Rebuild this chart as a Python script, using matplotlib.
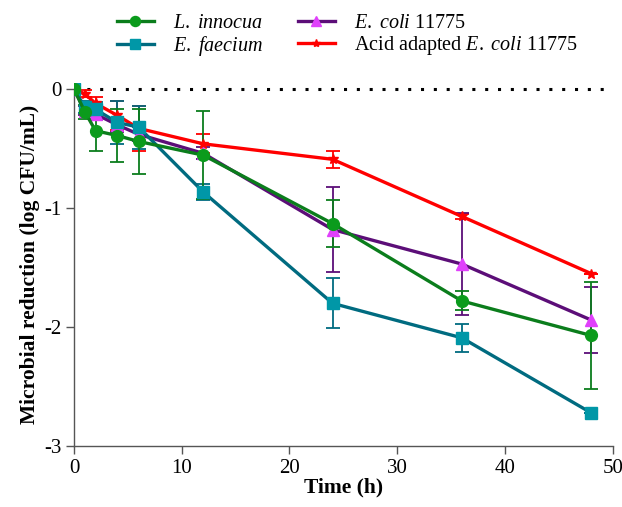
import matplotlib
matplotlib.use('Agg')
import matplotlib.pyplot as plt

plt.rcParams['font.family'] = ['Liberation Serif', 'DejaVu Serif']
plt.rcParams['mathtext.fontset'] = 'custom'
plt.rcParams['mathtext.rm'] = 'Liberation Serif'
plt.rcParams['mathtext.it'] = 'Liberation Serif:italic'

# Time points (h)
time = [0, 1, 2, 4, 6, 12, 24, 36, 48]

# Mean reductions (log CFU/mL) and error bars
innocua = [0, -0.19, -0.35, -0.39, -0.44, -0.555, -1.13, -1.78, -2.07]
innocua_err = [0, 0.06, 0.17, 0.22, 0.27, 0.37, 0.20, 0.08, 0.45]

faecium = [0, -0.15, -0.17, -0.28, -0.32, -0.865, -1.80, -2.09, -2.72]
faecium_err = [0, 0.05, 0.06, 0.18, 0.18, 0.07, 0.21, 0.12, 0.0]

ecoli = [0, -0.18, -0.21, -0.30, -0.38, -0.54, -1.18, -1.47, -1.94]
ecoli_err = [0, 0.04, 0.05, 0.06, 0.06, 0.05, 0.36, 0.43, 0.28]

acid = [0, -0.04, -0.12, -0.22, -0.33, -0.46, -0.59, -1.07, -1.55]
acid_err = [0, 0.03, 0.05, 0.12, 0.19, 0.08, 0.07, 0.02, 0.0]

fig = plt.figure(figsize=(6.22, 5.07), dpi=100)
ax = fig.add_axes([0.119, 0.12, 0.866, 0.716])

lw = 2.4
# dotted zero line
ax.plot([0, 50], [0, 0], color='black', linestyle=(0, (1, 3.2)), linewidth=2.2, zorder=1)

series = [
    (acid, acid_err, '#ff0000', '#ff0000', '*', 7, r'Acid adapted $\it{E.\ coli}$ 11775'),
    (ecoli, ecoli_err, '#5c0e78', '#e040fb', '^', 8, r'$\it{E.\ coli}$ 11775'),
    (faecium, faecium_err, '#006b80', '#0097a7', 's', 8, r'$\it{E.\ faecium}$'),
    (innocua, innocua_err, '#0b7d1c', '#0b9b1c', 'o', 8.5, r'$\it{L.\ innocua}$'),
]
handles = {}
for i, (y, err, lc, mc, mk, ms, lab) in enumerate(series):
    ax.errorbar(time, y, yerr=err, fmt='none', ecolor=lc, elinewidth=1.3,
                capsize=5, capthick=1.3, zorder=2 + i)
    h, = ax.plot(time, y, color=lc, linewidth=lw, marker=mk, markersize=ms,
                 markerfacecolor=mc, markeredgecolor=mc, label=lab, zorder=6 + i)
    handles[lab] = h

order = [r'$\it{L.\ innocua}$', r'$\it{E.\ faecium}$',
         r'$\it{E.\ coli}$ 11775', r'Acid adapted $\it{E.\ coli}$ 11775']
fig.legend([handles[k] for k in order], order, ncol=2, frameon=False,
           loc='upper left', bbox_to_anchor=(0.165, 1.0), fontsize=14.5,
           handlelength=1.85, columnspacing=1.7, handletextpad=0.95,
           labelspacing=0.05, markerscale=0.85, borderaxespad=0.3)

ax.set_xlim(0, 50)
ax.set_ylim(-3, 0.05)
ax.set_xticks([0, 10, 20, 30, 40, 50])
ax.set_yticks([0, -1, -2, -3])
ax.set_yticklabels(['0', '-1', '-2', '-3'])
ax.spines['top'].set_visible(False)
ax.spines['right'].set_visible(False)
for s in ['left', 'bottom']:
    ax.spines[s].set_color('#555555')
    ax.spines[s].set_linewidth(1.0)
ax.spines['left'].set_bounds(-3, 0)
ax.tick_params(direction='out', length=6, width=1.0, color='#555555',
               labelsize=15, pad=3)
ax.set_xlabel('Time (h)', fontsize=15.5, fontweight='bold', labelpad=0)
ax.set_ylabel('Microbial reduction (log CFU/mL)', fontsize=15.5,
              fontweight='bold', labelpad=3)

fig.savefig('out.png', dpi=100)
